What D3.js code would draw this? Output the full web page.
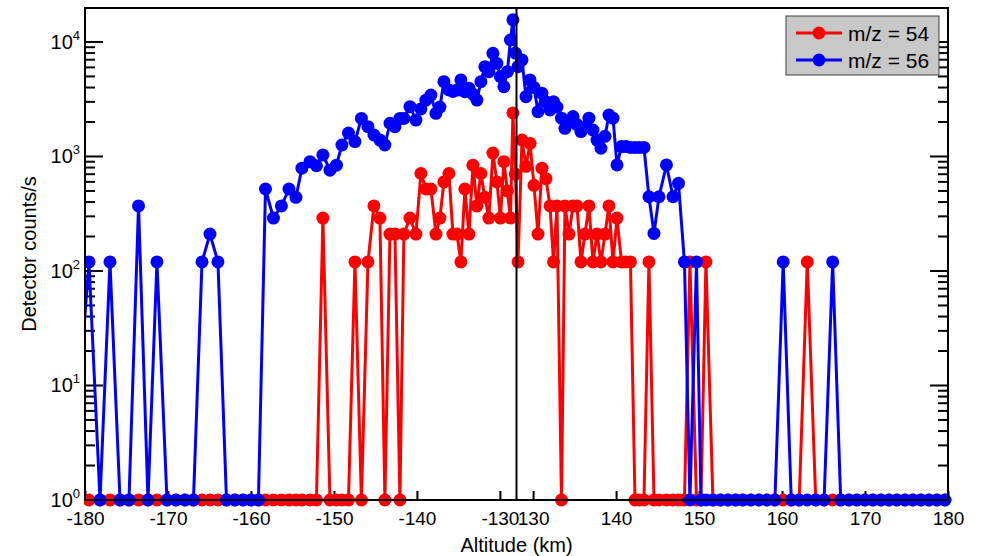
<!DOCTYPE html>
<html>
<head>
<meta charset="utf-8">
<script src="https://d3js.org/d3.v7.min.js"></script>
<style>
body { margin: 0; background: #fff; }
text { font-family: Arial, "Liberation Sans", sans-serif; fill: #000; }
</style>
</head>
<body>
<script>
// altitude of each sample (km), negative = inbound leg
var altitude = [
	-181.69, -179.52, -178.19, -176.99, -175.78, -174.7, -173.55, -172.41, -171.33, -170.12,
	-169.04, -167.95, -166.93, -165.9, -164.94, -163.98, -162.95, -161.93, -160.96, -160.0,
	-159.1, -158.25, -157.29, -156.33, -155.42, -154.58, -153.86, -152.89, -152.11, -151.33,
	-150.48, -149.7, -149.04, -148.25, -147.47, -146.69, -145.9, -145.18, -144.46, -143.86,
	-143.25, -142.65, -142.05, -141.57, -140.84, -140.12, -139.52, -138.92, -138.31, -137.71,
	-137.23, -136.75, -136.14, -135.66, -135.18, -134.7, -134.22, -133.73, -133.25, -132.77,
	-132.29, -131.81, -131.33, -130.84, -130.36, -129.94, -129.52, -129.1, -128.73, -128.43,
	-128.13,
	128.18, 128.66, 129.14, 129.63, 130.11, 130.59, 131.07, 131.55, 132.04, 132.46,
	132.88, 133.42, 133.84, 134.33, 134.81, 135.29, 135.77, 136.25, 136.73, 137.22,
	137.7, 138.18, 138.66, 139.14, 139.63, 140.11, 140.65, 141.19, 141.73, 142.28,
	142.82, 143.36, 143.96, 144.57, 145.17, 146.07, 146.86, 147.52, 148.24, 148.9,
	149.69, 150.23, 150.83, 151.67, 152.58, 153.48, 154.39, 155.29, 156.25, 157.22,
	158.18, 159.14, 160.14, 161.11, 162.07, 163.04, 164.06, 165.07, 166.1, 167.07,
	168.06, 169.02, 169.99, 170.95, 171.92, 172.88, 173.84, 174.81, 175.77, 176.73,
	177.7, 178.66, 179.63
];

// counts/s, zero counts drawn at 10^0
var mz54 = [
	1, 1, 1, 1, 1, 1, 1, 1, 1, 1,
	1, 1, 1, 1, 1, 1, 1, 1, 1, 1,
	1, 1, 1, 1, 1, 1, 1, 1, 1, 290,
	1, 1, 1, 1, 120, 1, 120, 370, 290, 1,
	210, 210, 1, 210, 290, 210, 710, 520, 520, 210,
	290, 600, 710, 210, 210, 120, 520, 210, 840, 370,
	710, 440, 290, 1070, 600, 290, 900, 500, 290, 2400,
	700,
	120, 1390, 820, 1300, 560, 210, 790, 640, 370, 120,
	370, 1, 370, 210, 370, 370, 120, 210, 370, 120,
	210, 120, 210, 370, 120, 290, 120, 120, 120, 1,
	1, 1, 120, 1, 1, 1, 1, 1, 1, 120,
	1, 1, 120, 1, 1, 1, 1, 1, 1, 1,
	1, 1, 1, 1, 1, 120, 1, 1, 1, 1,
	1, 1, 1, 1, 1, 1, 1, 1, 1, 1,
	1, 1, 1
];

var mz56 = [
	1, 120, 1, 120, 1, 1, 370, 1, 120, 1,
	1, 1, 1, 120, 210, 120, 1, 1, 1, 1,
	1, 520, 290, 370, 520, 440, 790, 900, 830, 1030,
	760, 840, 1260, 1600, 1350, 2150, 1820, 1540, 1390, 1260,
	1950, 1820, 2150, 2150, 2720, 2080, 2600, 3100, 3440, 2380,
	2700, 4500, 3810, 3700, 3800, 4660, 3680, 3950, 3500, 3110,
	4500, 6080, 5500, 7960, 6500, 4980, 4070, 5500, 10400, 15600,
	8000,
	6090, 6970, 3330, 4660, 4000, 2460, 3560, 3000, 2550, 3010,
	2700, 2160, 1760, 2000, 2230, 1900, 1650, 1800, 2160, 1700,
	1390, 1180, 1500, 2300, 2160, 843, 1220, 1220, 1200, 1200,
	1200, 1200, 445, 213, 445, 843, 445, 583, 120, 1,
	120, 1, 1, 1, 1, 1, 1, 1, 1, 1,
	1, 1, 120, 1, 1, 1, 1, 1, 120, 1,
	1, 1, 1, 1, 1, 1, 1, 1, 1, 1,
	1, 1, 1
];

var xTicks = [-180, -170, -160, -150, -140, -130, 130, 140, 150, 160, 170, 180];
var yDecades = [0, 1, 2, 3, 4];
var seriesNames = ['m/z = 54', 'm/z = 56'];
var seriesColors = ['#ff0000', '#0000ff'];

var width = 981, height = 556;
var plotL = 85, plotR = 948, plotT = 8, plotB = 500;
var closest = 128;

var svg = d3.select('body').append('svg')
	.attr('width', width)
	.attr('height', height);

// broken x axis: inbound leg on the left, outbound on the right
var mid = (plotL + plotR) / 2;
var xScale = d3.scaleLinear()
	.domain([-180, -closest, closest, 180])
	.range([plotL, mid, mid, plotR]);

var yScale = d3.scaleLog()
	.domain([1, 19800])
	.range([plotB, plotT]);

svg.append('defs').append('clipPath').attr('id', 'clip')
	.append('rect')
	.attr('x', plotL - 1).attr('y', 0)
	.attr('width', plotR - plotL + 10).attr('height', height - 30);

// y ticks, left and right, pointing inward
var minor = [];
yDecades.forEach(function(e){
	for(var m = 2; m <= 9; m++){
		var v = m * Math.pow(10, e);
		if(v < yScale.domain()[1]) minor.push(v);
	}
});
var yt = svg.append('g').attr('id', 'yticks').attr('stroke', '#000').attr('stroke-width', 2);
yDecades.forEach(function(e){
	var y = yScale(Math.pow(10, e));
	yt.append('line').attr('x1', plotL).attr('x2', plotL + 18).attr('y1', y).attr('y2', y);
	yt.append('line').attr('x1', plotR).attr('x2', plotR - 18).attr('y1', y).attr('y2', y);
});
minor.forEach(function(v){
	var y = yScale(v);
	yt.append('line').attr('x1', plotL).attr('x2', plotL + 10).attr('y1', y).attr('y2', y);
	yt.append('line').attr('x1', plotR).attr('x2', plotR - 10).attr('y1', y).attr('y2', y);
});

// y tick labels 10^n
yDecades.forEach(function(e){
	var t = svg.append('text')
		.attr('x', plotL - 5)
		.attr('y', yScale(Math.pow(10, e)) + 7)
		.attr('text-anchor', 'end')
		.attr('font-size', '20px');
	t.append('tspan').text('10');
	t.append('tspan').text(e).attr('font-size', '13px').attr('dy', -9);
});

// x ticks and labels
var xAxis = d3.axisBottom(xScale)
	.tickValues(xTicks)
	.tickSizeInner(-9)
	.tickSizeOuter(0)
	.tickPadding(12)
	.tickFormat(function(d){ return d; });
var xg = svg.append('g').attr('id', 'xaxis')
	.attr('transform', 'translate(0,' + plotB + ')')
	.call(xAxis);
xg.select('.domain').remove();
xg.selectAll('.tick line').attr('stroke', '#000').attr('stroke-width', 2);
xg.selectAll('.tick text')
	.attr('font-size', '19px')
	.attr('font-family', 'Arial, "Liberation Sans", sans-serif')
	.attr('fill', '#000');

// data
var line = d3.line()
	.x(function(d){ return xScale(d[0]); })
	.y(function(d){ return yScale(d[1]); });

var plot = svg.append('g').attr('clip-path', 'url(#clip)');
[mz54, mz56].forEach(function(vals, k){
	var pts = altitude.map(function(a, i){ return [a, vals[i]]; });
	plot.append('path')
		.datum(pts)
		.attr('d', line)
		.attr('fill', 'none')
		.attr('stroke', seriesColors[k])
		.attr('stroke-width', 3)
		.attr('stroke-linejoin', 'round');
	plot.selectAll('.dot' + k)
		.data(pts)
		.enter()
		.append('circle')
		.attr('class', 'dot' + k)
		.attr('cx', function(d){ return xScale(d[0]); })
		.attr('cy', function(d){ return yScale(d[1]); })
		.attr('r', 6.5)
		.attr('fill', seriesColors[k]);
});

// frame and closest-approach line
svg.append('rect')
	.attr('x', plotL).attr('y', plotT)
	.attr('width', plotR - plotL).attr('height', plotB - plotT)
	.attr('fill', 'none').attr('stroke', '#000').attr('stroke-width', 2);
svg.append('line')
	.attr('x1', mid).attr('x2', mid).attr('y1', plotT).attr('y2', plotB)
	.attr('stroke', '#000').attr('stroke-width', 2);

// axis titles
svg.append('text').text('Altitude (km)')
	.attr('x', mid).attr('y', 552)
	.attr('text-anchor', 'middle').attr('font-size', '20px');
svg.append('text').text('Detector counts/s')
	.attr('transform', 'translate(36,' + ((plotT + plotB) / 2) + ') rotate(-90)')
	.attr('text-anchor', 'middle').attr('font-size', '20px');

// legend
var lg = svg.append('g').attr('id', 'legend');
lg.append('rect')
	.attr('x', 786).attr('y', 16).attr('width', 153).attr('height', 59)
	.attr('fill', '#c8c8c8').attr('stroke', '#404040').attr('stroke-width', 1);
seriesNames.forEach(function(name, k){
	var y = 33 + k * 27;
	lg.append('line').attr('x1', 796).attr('x2', 842).attr('y1', y).attr('y2', y)
		.attr('stroke', seriesColors[k]).attr('stroke-width', 3);
	lg.append('circle').attr('cx', 819).attr('cy', y).attr('r', 6.5).attr('fill', seriesColors[k]);
	lg.append('text').text(name).attr('x', 848).attr('y', y + 7.5).attr('font-size', '21px');
});
</script>
</body>
</html>
